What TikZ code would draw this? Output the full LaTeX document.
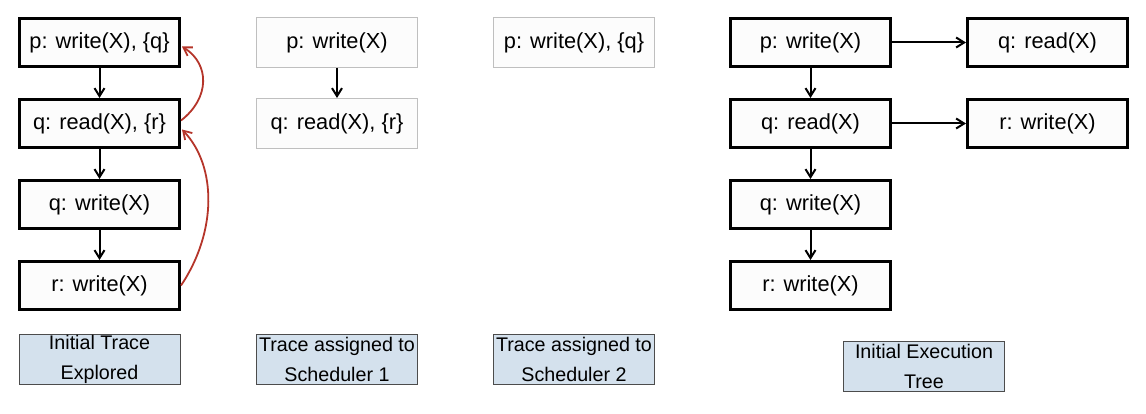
\documentclass[tikz,border=0pt]{standalone}
\usepackage{fontspec}
\setmainfont{Liberation Sans}
\usetikzlibrary{arrows.meta}
\definecolor{boxfill}{HTML}{FCFCFC}
\definecolor{lblfill}{HTML}{D4E1ED}
\definecolor{redarrow}{HTML}{B5352A}
\begin{document}
\begin{tikzpicture}[x=1pt,y=-1pt,
  thickbox/.style={draw=black, line width=2.6pt, fill=boxfill, minimum width=160.4pt, minimum height=48.4pt, inner sep=0pt, font=\fontsize{21.8}{26}\selectfont},
  thinbox/.style={draw=black!25, line width=1pt, fill=boxfill, minimum width=161pt, minimum height=50pt, inner sep=0pt, font=\fontsize{21.8}{26}\selectfont},
  lbl/.style={draw=black!70, line width=1pt, fill=lblfill, minimum width=161pt, minimum height=50pt, inner sep=0pt, align=center, font=\fontsize{19.7}{30}\selectfont},
  arr/.style={-{Straight Barb[length=8pt,width=10pt]}, line width=2pt},
  redarr/.style={-{Straight Barb[length=8pt,width=10pt]}, line width=1.8pt, draw=redarrow}]
\useasboundingbox (0,0) rectangle (1146,414);
% column 1
\node[thickbox] (p1) at (99.5,42.5) {p: write(X), \{q\}};
\node[thickbox] (q1) at (99.5,123.5) {q: read(X), \{r\}};
\node[thickbox] (qw1) at (99.5,204.5) {q: write(X)};
\node[thickbox] (r1) at (99.5,285.5) {r: write(X)};
\draw[arr] (p1) -- (q1);
\draw[arr] (q1) -- (qw1);
\draw[arr] (qw1) -- (r1);
\draw[redarr] ([yshift=3pt]q1.east) .. controls (210,98) and (210,64) .. ([xshift=1pt,yshift=-4pt]p1.east);
\draw[redarr] (r1.east) .. controls (217,232) and (217,166) .. ([xshift=1pt,yshift=-6pt]q1.east);
% column 2
\node[thinbox] (p2) at (337,42.5) {p: write(X)};
\node[thinbox] (q2) at (337,123.5) {q: read(X), \{r\}};
\draw[arr] (p2) -- (q2);
% column 3
\node[thinbox] (p3) at (574,42.5) {p: write(X), \{q\}};
% column 4
\node[thickbox] (p4) at (810.5,42.5) {p: write(X)};
\node[thickbox] (q4) at (810.5,123.5) {q: read(X)};
\node[thickbox] (qw4) at (810.5,204.5) {q: write(X)};
\node[thickbox] (r4) at (810.5,285.5) {r: write(X)};
\node[thickbox] (q5) at (1047.5,42.5) {q: read(X)};
\node[thickbox] (r5) at (1047.5,123.5) {r: write(X)};
\draw[arr] (p4) -- (q4);
\draw[arr] (q4) -- (qw4);
\draw[arr] (qw4) -- (r4);
\draw[arr] (p4) -- (q5);
\draw[arr] (q4) -- (r5);
% labels
\node[lbl] (l1) at (99.5,359) {Initial Trace\\Explored};
\node[lbl] (l2) at (337,359) {Trace assigned to\\Scheduler 1};
\node[lbl] (l3) at (574,359) {Trace assigned to\\Scheduler 2};
\node[lbl] (l4) at (924,366.5) {Initial Execution\\Tree};
\end{tikzpicture}
\end{document}
